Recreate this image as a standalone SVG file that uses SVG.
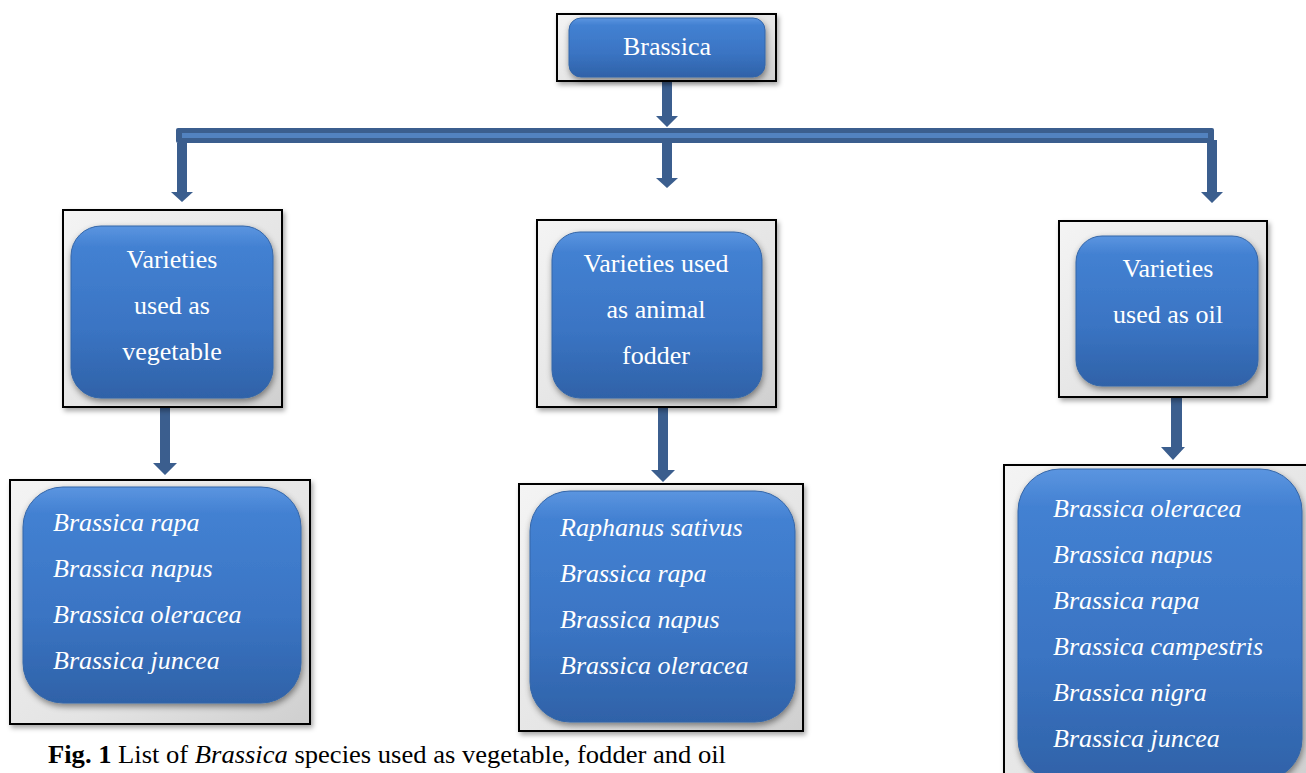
<svg xmlns="http://www.w3.org/2000/svg" width="1306" height="773" viewBox="0 0 1306 773">
<defs>
<linearGradient id="blue" x1="0" y1="0" x2="0" y2="1">
<stop offset="0" stop-color="#5b95e0"/>
<stop offset="0.12" stop-color="#4381d2"/>
<stop offset="0.6" stop-color="#3a74c3"/>
<stop offset="1" stop-color="#2f62a8"/>
</linearGradient>
<linearGradient id="gray" x1="0" y1="0" x2="1" y2="1">
<stop offset="0" stop-color="#f4f4f4"/>
<stop offset="0.6" stop-color="#e4e4e4"/>
<stop offset="1" stop-color="#cfcfcf"/>
</linearGradient>
<filter id="sh" x="-10%" y="-10%" width="125%" height="125%">
<feDropShadow dx="2" dy="3" stdDeviation="2.5" flood-color="#000" flood-opacity="0.35"/>
</filter>
<filter id="sh2" x="-10%" y="-10%" width="125%" height="125%">
<feDropShadow dx="1" dy="3" stdDeviation="3" flood-color="#000" flood-opacity="0.45"/>
</filter>
</defs>
<style>
.frame{fill:url(#gray);stroke:#000;stroke-width:2;filter:url(#sh)}
.inner{fill:url(#blue);stroke:#3466a8;stroke-width:1;filter:url(#sh2)}
text{font-family:'Liberation Serif','Times New Roman',Times,serif}
.t{font-size:26px;fill:#fff}
.c{text-anchor:middle}
.i{font-style:italic}
.conn{fill:#3b5e8e}
.stripe{fill:#5282c0}
.cap{font-size:26px;fill:#000}
</style>
<rect width="1306" height="773" fill="#fff"/>

<g id="connectors">
<polygon class="conn" points="662,77 672,77 672,116 678,116 667,127 656,116 662,116"/>
<rect class="conn" x="176" y="128" width="1038" height="15" rx="2"/>
<rect class="stripe" x="182" y="133" width="1026" height="5"/>
<polygon class="conn" points="177,143 187,143 187,192 193,192 182,202 171,192 177,192"/>
<polygon class="conn" points="662,143 672,143 672,178 678,178 667,188 656,178 662,178"/>
<polygon class="conn" points="1207,140 1217,140 1217,192 1223,192 1212,203 1201,192 1207,192"/>
<polygon class="conn" points="160,400 170,400 170,463 177,463 165,475 153,463 160,463"/>
<polygon class="conn" points="658,400 668,400 668,470 675,470 663,482 651,470 658,470"/>
<polygon class="conn" points="1171,386 1182,386 1182,447 1185,447 1173,460 1161,447 1171,447"/>
</g>

<g id="brassica">
<rect class="frame" x="557" y="14" width="219" height="67"/>
<rect class="inner" x="569" y="18" width="196" height="59" rx="12"/>
<text class="t c" x="667" y="55">Brassica</text>
</g>

<g id="vegetable">
<rect class="frame" x="63" y="210" width="219" height="197"/>
<rect class="inner" x="71" y="226" width="202" height="172" rx="30"/>
<text class="t c" x="172" y="268">Varieties</text>
<text class="t c" x="172" y="314">used as</text>
<text class="t c" x="172" y="360">vegetable</text>
</g>

<g id="fodder">
<rect class="frame" x="537" y="220" width="239" height="187"/>
<rect class="inner" x="552" y="232" width="210" height="166" rx="28"/>
<text class="t c" x="656" y="272">Varieties used</text>
<text class="t c" x="656" y="318">as animal</text>
<text class="t c" x="656" y="364">fodder</text>
</g>

<g id="oil">
<rect class="frame" x="1059" y="221" width="208" height="176"/>
<rect class="inner" x="1076" y="236" width="182" height="150" rx="26"/>
<text class="t c" x="1168" y="277">Varieties</text>
<text class="t c" x="1168" y="323">used as oil</text>
</g>

<g id="vegetable-list">
<rect class="frame" x="10" y="480" width="300" height="244"/>
<rect class="inner" x="23" y="487" width="278" height="216" rx="40"/>
<text class="t i" x="53" y="531">Brassica rapa</text>
<text class="t i" x="53" y="577">Brassica napus</text>
<text class="t i" x="53" y="623">Brassica oleracea</text>
<text class="t i" x="53" y="669">Brassica juncea</text>
</g>

<g id="fodder-list">
<rect class="frame" x="519" y="484" width="284" height="247"/>
<rect class="inner" x="530" y="491" width="265" height="231" rx="40"/>
<text class="t i" x="560" y="536">Raphanus sativus</text>
<text class="t i" x="560" y="582">Brassica rapa</text>
<text class="t i" x="560" y="628">Brassica napus</text>
<text class="t i" x="560" y="674">Brassica oleracea</text>
</g>

<g id="oil-list">
<rect class="frame" x="1004" y="465" width="310" height="320"/>
<rect class="inner" x="1018" y="469" width="284" height="312" rx="42"/>
<text class="t i" x="1053" y="517">Brassica oleracea</text>
<text class="t i" x="1053" y="563">Brassica napus</text>
<text class="t i" x="1053" y="609">Brassica rapa</text>
<text class="t i" x="1053" y="655">Brassica campestris</text>
<text class="t i" x="1053" y="701">Brassica nigra</text>
<text class="t i" x="1053" y="747">Brassica juncea</text>
</g>

<text class="cap" x="48" y="763" textLength="678" lengthAdjust="spacingAndGlyphs"><tspan font-weight="bold">Fig. 1</tspan> List of <tspan font-style="italic">Brassica</tspan> species used as vegetable, fodder and oil</text>
</svg>
